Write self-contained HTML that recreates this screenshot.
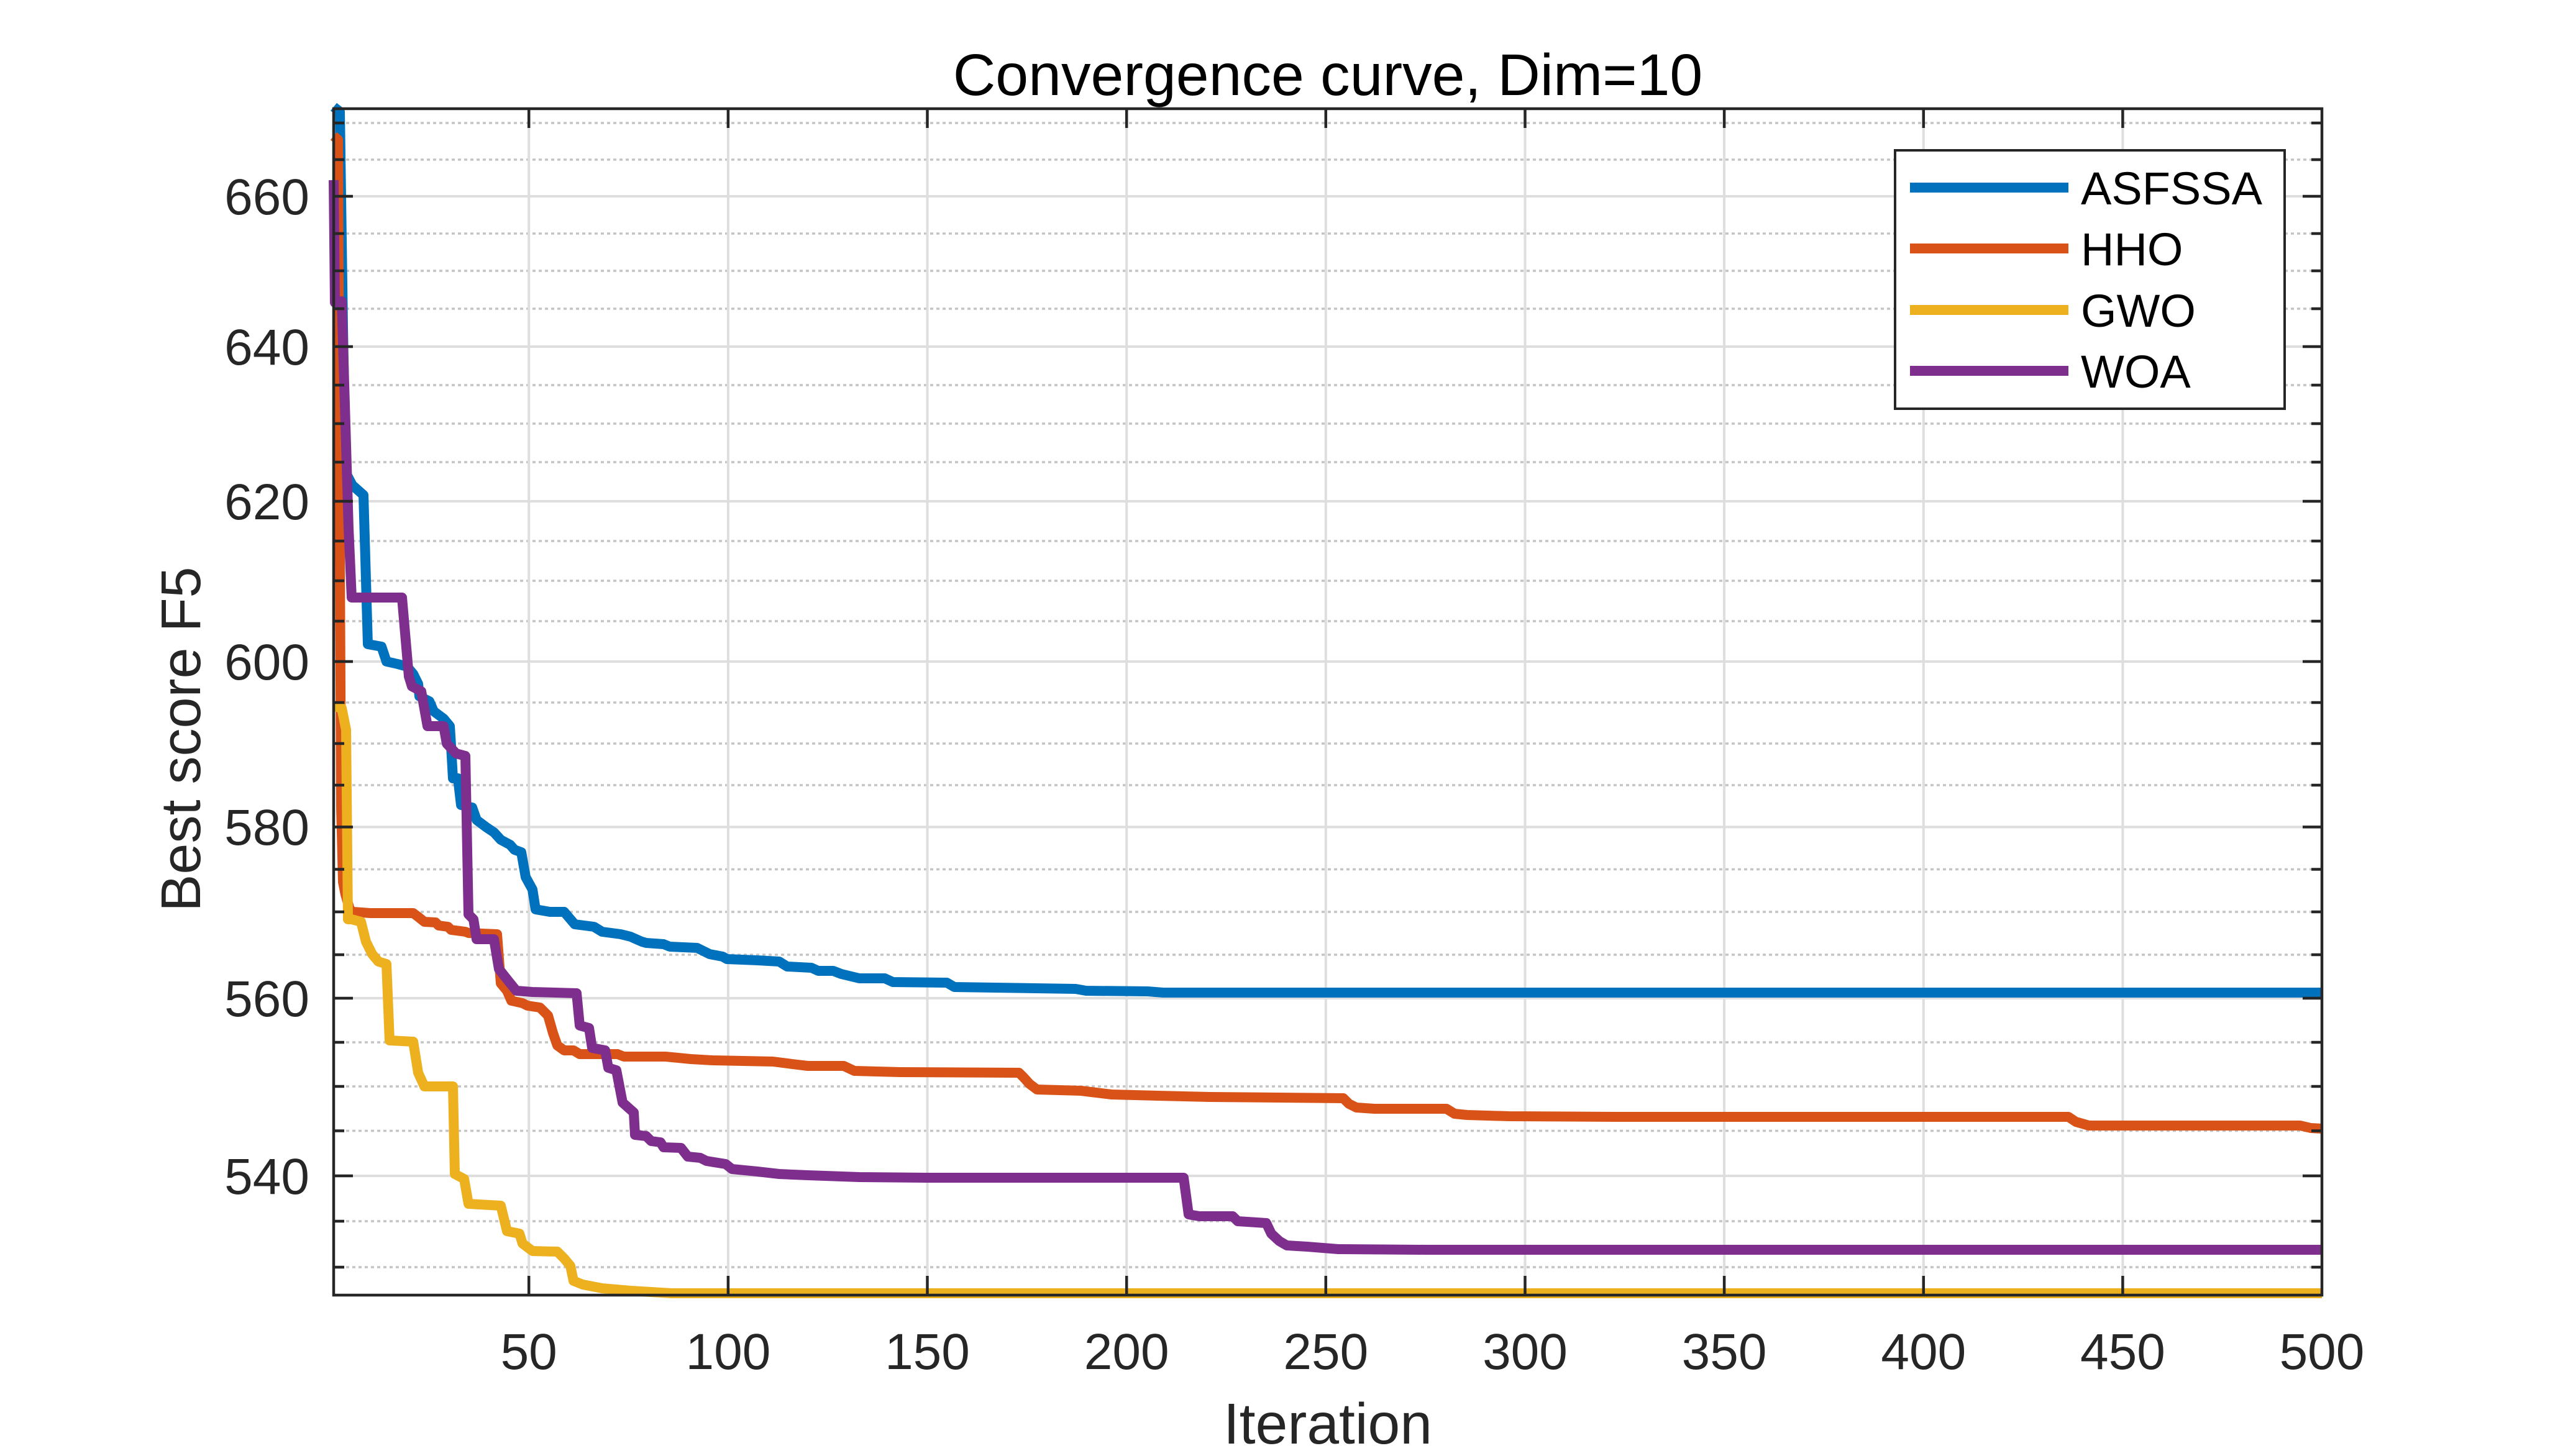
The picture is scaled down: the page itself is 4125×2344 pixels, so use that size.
<!DOCTYPE html>
<html><head><meta charset="utf-8"><style>
html,body{margin:0;padding:0;background:#fff;}
svg{display:block;}
text{font-family:"Liberation Sans",Arial,sans-serif;}
</style></head><body>
<svg width="4125" height="2344" viewBox="0 0 4125 2344" xmlns="http://www.w3.org/2000/svg">
<rect width="4125" height="2344" fill="#fff"/>
<g stroke="#c4c4c4" stroke-width="3.5" stroke-dasharray="5 5" fill="none">
<path d="M537 2040H3737M537 1966H3737M537 1820.5H3737M537 1749H3737M537 1678H3737M537 1537H3737M537 1468H3737M537 1399.5H3737M537 1264H3737M537 1197H3737M537 1131H3737M537 1000H3737M537 935H3737M537 871H3737M537 744H3737M537 682H3737M537 620H3737M537 497H3737M537 436H3737M537 376H3737M537 257H3737M537 198H3737"/>
</g>
<g stroke="#dedede" stroke-width="4" fill="none">
<path d="M537 1893H3737M537 1607H3737M537 1331.4H3737M537 1065H3737M537 807H3737M537 558H3737M537 316H3737"/>
<path d="M851.2 175V2085M1171.9 175V2085M1492.5 175V2085M1813.2 175V2085M2133.8 175V2085M2454.5 175V2085M2775.1 175V2085M3095.8 175V2085M3416.4 175V2085"/>
</g>
<g fill="none" stroke-width="16" stroke-linejoin="round" stroke-linecap="butt">
<polyline stroke="#0072BD" points="537,172 547,180 552,525 556,760 567,781 585,797 592,1037 614,1041 622,1065 640,1069 655,1073 665,1085 673,1101 675,1121 691,1129 698,1145 714,1157 724,1169 726,1201 729,1253 737,1253 742,1296 760,1300 767,1320 783,1332 795,1340 806,1352 821,1360 828,1368 839,1372 846,1412 857,1432 862,1464 885,1468 908,1468 925,1488 956,1492 969,1500 999,1504 1015,1508 1033,1516 1040,1518 1068,1520 1078,1524 1122,1526 1142,1536 1163,1540 1170,1544 1219,1546 1254,1548 1267,1556 1306,1558 1317,1563 1341,1563 1354,1568 1383,1575 1424,1575 1437,1581 1524,1582 1536,1589 1731,1592 1748,1595 1847,1596 1872,1598 3737,1598"/>
<polyline stroke="#D95319" points="537,219 544,225 547,900 549,1300 552,1420 556,1440 563,1464 568,1468 596,1470 665,1470 673,1476 683,1484 701,1485 706,1490 721,1492 726,1497 749,1500 754,1502 800,1504 806,1583 816,1595 823,1611 841,1615 849,1619 869,1622 882,1635 890,1663 897,1683 908,1691 923,1691 933,1697 994,1697 1004,1701 1071,1701 1112,1705 1147,1707 1244,1709 1275,1713 1300,1716 1358,1716 1375,1724 1449,1726 1640,1727 1648,1735 1657,1745 1669,1754 1740,1756 1756,1758 1789,1762 1864,1764 1947,1766 2162,1768 2171,1777 2183,1783 2212,1785 2328,1785 2341,1793 2361,1795 2428,1797 2600,1798 3329,1798 3341,1806 3362,1812 3702,1812 3719,1816 3737,1817"/>
<polyline stroke="#EDB120" points="537,1137 550,1140 557,1175 560,1480 566,1480 581,1484 589,1516 599,1536 609,1548 622,1552 627,1675 665,1677 673,1727 683,1749 729,1749 732,1890 747,1898 754,1938 806,1941 816,1982 836,1986 841,2002 857,2014 897,2015 908,2026 918,2038 923,2062 938,2068 969,2074 1015,2078 1081,2082 3737,2082"/>
<polyline stroke="#7E2F8E" points="537,290 539,487 550,485 561,850 566,962 647,962 658,1089 663,1105 678,1113 688,1169 714,1169 719,1197 734,1213 749,1217 754,1472 762,1480 767,1512 795,1512 803,1560 818,1579 831,1595 857,1597 928,1599 933,1651 948,1655 953,1687 974,1691 979,1719 992,1723 1002,1775 1020,1791 1022,1827 1040,1829 1048,1837 1063,1839 1068,1847 1096,1848 1107,1862 1127,1864 1137,1869 1168,1874 1178,1882 1219,1886 1254,1890 1300,1892 1383,1895 1491,1896 1905,1896 1913,1955 1930,1958 1984,1958 1992,1966 2038,1969 2046,1986 2059,1998 2071,2005 2104,2007 2154,2011 2295,2012 3737,2012"/>
</g>
<rect x="537" y="175" width="3200" height="1910" fill="none" stroke="#262626" stroke-width="4.5"/>
<g stroke="#262626" stroke-width="4.5" fill="none">
<path d="M537 1893h31M537 1607h31M537 1331.4h31M537 1065h31M537 807h31M537 558h31M537 316h31"/>
<path d="M3737 1893h-31M3737 1607h-31M3737 1331.4h-31M3737 1065h-31M3737 807h-31M3737 558h-31M3737 316h-31"/>
<path d="M537 2040h17M537 1966h17M537 1820.5h17M537 1749h17M537 1678h17M537 1537h17M537 1468h17M537 1399.5h17M537 1264h17M537 1197h17M537 1131h17M537 1000h17M537 935h17M537 871h17M537 744h17M537 682h17M537 620h17M537 497h17M537 436h17M537 376h17M537 257h17M537 198h17"/>
<path d="M3737 2040h-17M3737 1966h-17M3737 1820.5h-17M3737 1749h-17M3737 1678h-17M3737 1537h-17M3737 1468h-17M3737 1399.5h-17M3737 1264h-17M3737 1197h-17M3737 1131h-17M3737 1000h-17M3737 935h-17M3737 871h-17M3737 744h-17M3737 682h-17M3737 620h-17M3737 497h-17M3737 436h-17M3737 376h-17M3737 257h-17M3737 198h-17"/>
<path d="M851.2 2085v-31M1171.9 2085v-31M1492.5 2085v-31M1813.2 2085v-31M2133.8 2085v-31M2454.5 2085v-31M2775.1 2085v-31M3095.8 2085v-31M3416.4 2085v-31"/>
<path d="M851.2 175v31M1171.9 175v31M1492.5 175v31M1813.2 175v31M2133.8 175v31M2454.5 175v31M2775.1 175v31M3095.8 175v31M3416.4 175v31"/>
</g>
<g fill="#262626" font-size="82" text-anchor="end">
<text x="498" y="1922">540</text>
<text x="498" y="1636">560</text>
<text x="498" y="1360">580</text>
<text x="498" y="1094">600</text>
<text x="498" y="836">620</text>
<text x="498" y="587">640</text>
<text x="498" y="345">660</text>
</g>
<g fill="#262626" font-size="82" text-anchor="middle">
<text x="851.2" y="2204">50</text>
<text x="1171.9" y="2204">100</text>
<text x="1492.5" y="2204">150</text>
<text x="1813.2" y="2204">200</text>
<text x="2133.8" y="2204">250</text>
<text x="2454.5" y="2204">300</text>
<text x="2775.1" y="2204">350</text>
<text x="3095.8" y="2204">400</text>
<text x="3416.4" y="2204">450</text>
<text x="3737" y="2204">500</text>
</g>
<text x="2137" y="2324" font-size="93" fill="#262626" text-anchor="middle">Iteration</text>
<text transform="translate(322,1190) rotate(-90)" font-size="90" fill="#262626" text-anchor="middle">Best score F5</text>
<text x="2137" y="153" font-size="95" fill="#000" text-anchor="middle">Convergence curve, Dim=10</text>
<rect x="3050" y="242" width="627" height="416" fill="#fff" stroke="#262626" stroke-width="4"/>
<g stroke-width="16">
<line x1="3074" y1="302" x2="3329" y2="302" stroke="#0072BD"/>
<line x1="3074" y1="400" x2="3329" y2="400" stroke="#D95319"/>
<line x1="3074" y1="499" x2="3329" y2="499" stroke="#EDB120"/>
<line x1="3074" y1="597" x2="3329" y2="597" stroke="#7E2F8E"/>
</g>
<g font-size="74" fill="#000">
<text x="3349" y="329">ASFSSA</text>
<text x="3349" y="427">HHO</text>
<text x="3349" y="526">GWO</text>
<text x="3349" y="624">WOA</text>
</g>
</svg>
</body></html>
